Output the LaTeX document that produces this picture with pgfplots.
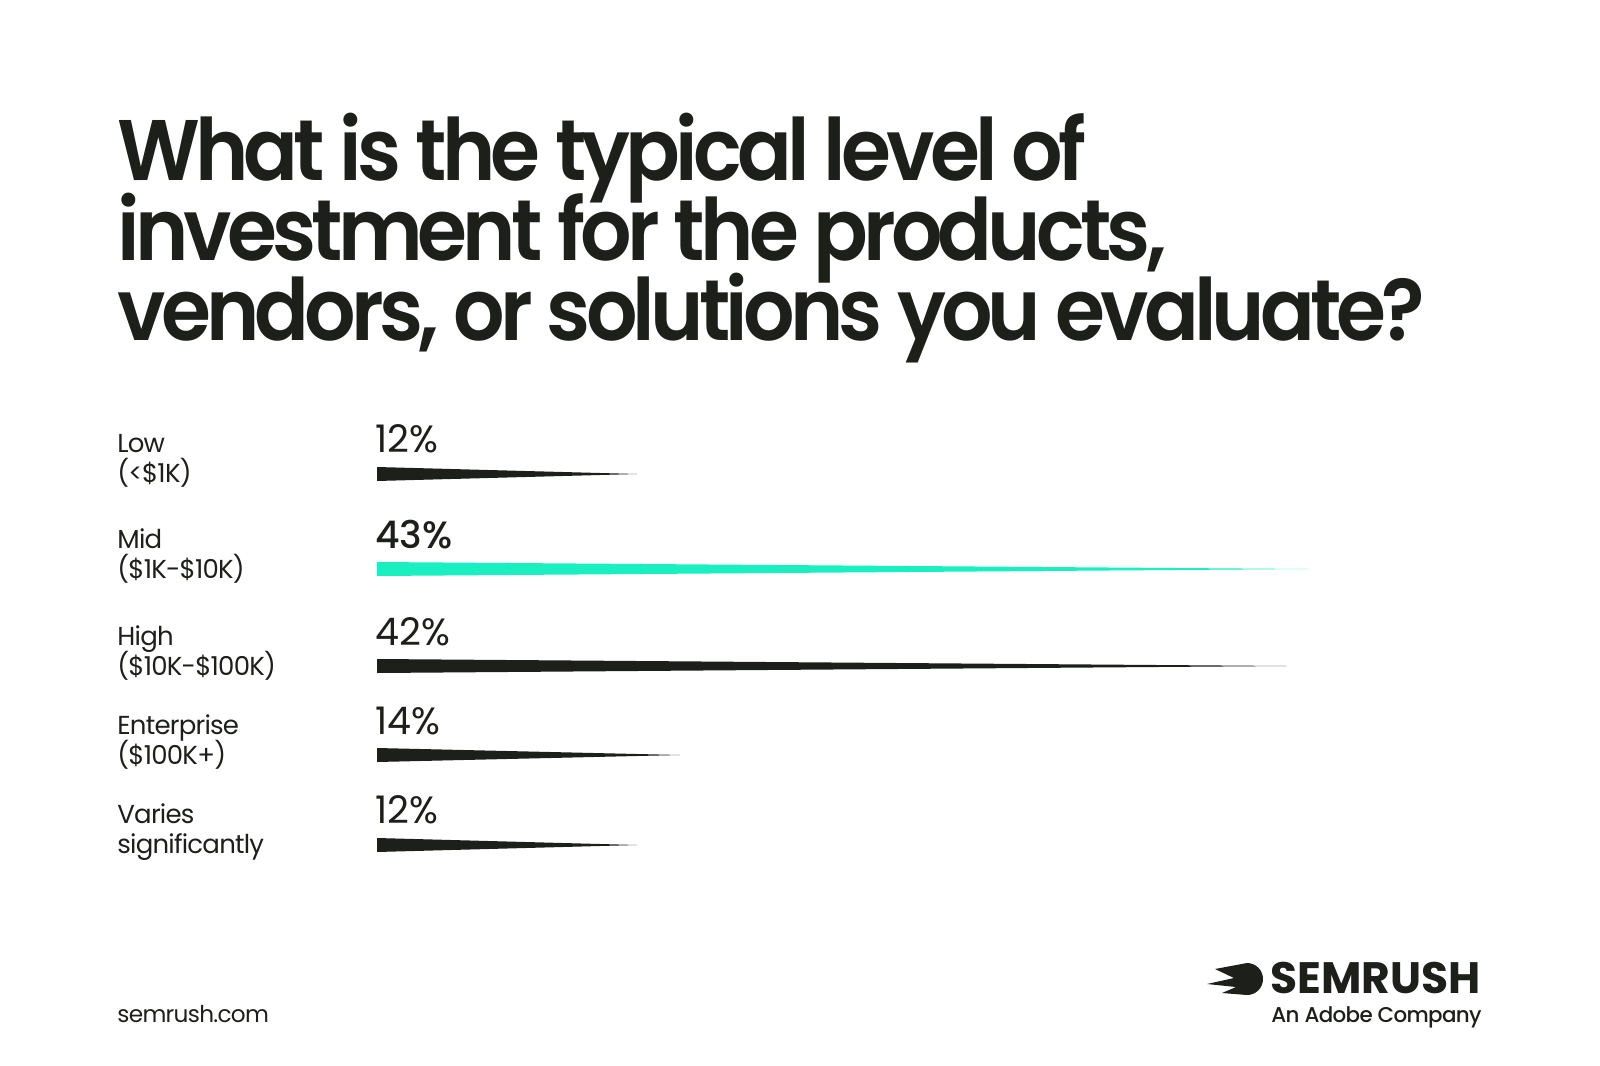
\documentclass[border=0pt]{standalone}
\usepackage{pgfplots}
\pgfplotsset{compat=1.18}
\usepackage{fontspec}
\setmainfont{Poppins}
\newfontfamily\titlefont{Poppins SemiBold}[LetterSpace=-6]
\newfontfamily\labfont{Poppins}[LetterSpace=-3]
\newfontfamily\medfont{Poppins Medium}
\newfontfamily\smallmed{Poppins Medium}[LetterSpace=-3]
\newfontfamily\logofont{Poppins Bold}
\definecolor{ink}{HTML}{1C1F1A}
\definecolor{mint}{HTML}{19EFC1}
\newcommand\ttl[1]{\scalebox{0.94}[1]{\titlefont\fontsize{43}{43}\selectfont #1}}

\begin{document}
\begin{tikzpicture}
\begin{axis}[
    width=800pt, height=532.5pt,
    scale only axis,
    hide axis,
    clip=false,
    xmin=0, xmax=1600,
    ymin=0, ymax=1065,
    y dir=reverse,
    % bars are given in percent, mapped onto the pixel grid
    x filter/.expression={377+21.67*x},
]
% wedges: (0,top) (0,bottom) (value,centre)
\addplot[fill=ink, draw=none] coordinates {(0,467) (0,481) (12,474)};
\addplot[fill=mint, draw=none] coordinates {(0,562) (0,576) (43,569)};
\addplot[fill=ink, draw=none] coordinates {(0,659) (0,673) (42,666)};
\addplot[fill=ink, draw=none] coordinates {(0,748) (0,762) (14,755)};
\addplot[fill=ink, draw=none] coordinates {(0,838) (0,852) (12,845)};

\path (axis cs:0,0) rectangle (axis cs:1600,1065);

\begin{scope}[every node/.style={anchor=base west, inner sep=0pt, text=ink}]
\node at (axis cs:117,180) {\ttl{What is the typical level of}};
\node at (axis cs:117,260) {\ttl{investment for the products,}};
\node at (axis cs:117,340) {\ttl{vendors, or solutions you evaluate?}};

\node[font=\labfont\fontsize{13}{13}\selectfont] at (axis cs:117,452) {Low};
\node[font=\labfont\fontsize{13}{13}\selectfont] at (axis cs:117,482) {(<\$1K)};
\node[font=\labfont\fontsize{13}{13}\selectfont] at (axis cs:117,548) {Mid};
\node[font=\labfont\fontsize{13}{13}\selectfont] at (axis cs:117,578) {(\$1K-\$10K)};
\node[font=\labfont\fontsize{13}{13}\selectfont] at (axis cs:117,645) {High};
\node[font=\labfont\fontsize{13}{13}\selectfont] at (axis cs:117,675) {(\$10K-\$100K)};
\node[font=\labfont\fontsize{13}{13}\selectfont] at (axis cs:117,734) {Enterprise};
\node[font=\labfont\fontsize{13}{13}\selectfont] at (axis cs:117,764) {(\$100K+)};
\node[font=\labfont\fontsize{13}{13}\selectfont] at (axis cs:117,823) {Varies};
\node[font=\labfont\fontsize{13}{13}\selectfont] at (axis cs:117,853) {significantly};

\node[font=\fontsize{19}{19}\selectfont] at (axis cs:375,452) {12\%};
\node[font=\medfont\fontsize{19}{19}\selectfont] at (axis cs:375,548) {43\%};
\node[font=\fontsize{19}{19}\selectfont] at (axis cs:375,645) {42\%};
\node[font=\fontsize{19}{19}\selectfont] at (axis cs:375,734) {14\%};
\node[font=\fontsize{19}{19}\selectfont] at (axis cs:375,823) {12\%};

\node[font=\labfont\fontsize{11.6}{12}\selectfont] at (axis cs:117,1022) {semrush.com};
\node[font=\logofont\fontsize{22}{22}\selectfont] at (axis cs:1270,993) {SEMRUSH};
\node[font=\smallmed\fontsize{10.7}{11}\selectfont] at (axis cs:1271,1022) {An Adobe Company};
\end{scope}
% logo mark
\fill[ink] (axis cs:1247,963) arc[start angle=90, end angle=-90, radius=8pt]
  -- (axis cs:1222,993) -- (axis cs:1236,987) -- (axis cs:1207,984)
  -- (axis cs:1234,978) -- (axis cs:1215,969) -- cycle;
\end{axis}
\end{tikzpicture}
\end{document}
